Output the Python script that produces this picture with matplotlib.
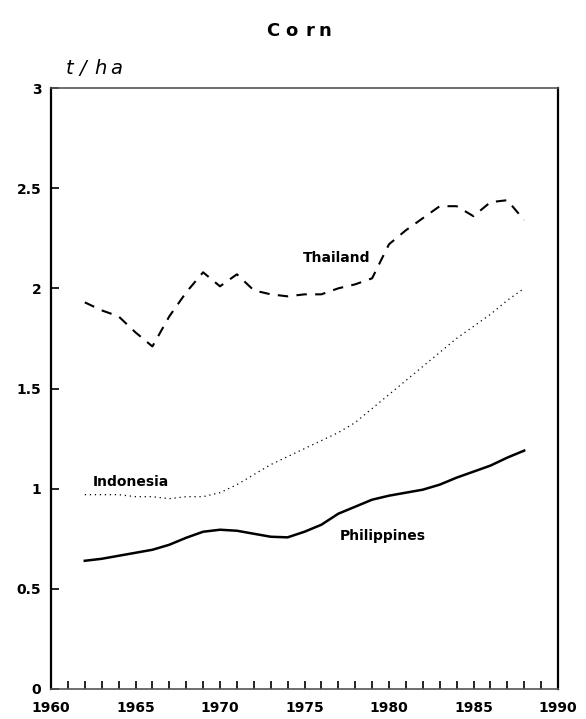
import matplotlib
matplotlib.use("Agg")
import matplotlib.pyplot as plt
import numpy as np

years = list(range(1962, 1989))
thailand = [1.93, 1.89, 1.86, 1.78, 1.71, 1.86, 1.98, 2.08, 2.01, 2.07, 1.99, 1.97, 1.96,
            1.97, 1.97, 2.00, 2.02, 2.05, 2.22, 2.29, 2.35, 2.41, 2.41, 2.36, 2.43, 2.44, 2.34]
indonesia = [0.97, 0.97, 0.97, 0.96, 0.96, 0.95, 0.96, 0.96, 0.98, 1.02, 1.07, 1.12, 1.16,
             1.20, 1.24, 1.28, 1.33, 1.40, 1.47, 1.54, 1.61, 1.68, 1.75, 1.81, 1.87, 1.94, 2.00]
philippines = [0.64, 0.65, 0.665, 0.68, 0.695, 0.72, 0.755, 0.785, 0.795, 0.79, 0.775, 0.76, 0.757,
               0.785, 0.82, 0.875, 0.91, 0.945, 0.965, 0.98, 0.995, 1.02, 1.055, 1.085, 1.115, 1.155, 1.19]
xticks = [1960, 1965, 1970, 1975, 1980, 1985, 1990]
yticks = [0, 0.5, 1, 1.5, 2, 2.5, 3]
ytick_labels = ["0", "0.5", "1", "1.5", "2", "2.5", "3"]

W, H = 586, 719
fig = plt.figure(figsize=(W / 100, H / 100), dpi=100)
ax = fig.add_axes([51 / W, 1 - 689 / H, (558 - 51) / W, (689 - 88) / H])

ax.plot(years, thailand, color="black", lw=1.5, linestyle=(0, (5, 4)))
ax.plot(years, indonesia, color="black", lw=0.9, linestyle=(0, (1, 3)))
ax.plot(years, philippines, color="black", lw=1.8, linestyle="-")

ax.set_xlim(1960, 1990)
ax.set_ylim(0, 3)
ax.set_xticks(xticks)
ax.set_xticks(range(1960, 1991), minor=True)
ax.set_yticks(yticks)
ax.set_yticklabels(ytick_labels)
ax.tick_params(axis="x", which="both", direction="in", length=6, width=1.2, pad=9,
               labelsize=10, top=False)
ax.tick_params(axis="y", which="both", direction="in", length=6, width=1.2, pad=7,
               labelsize=10, right=False)
for lab in ax.get_xticklabels() + ax.get_yticklabels():
    lab.set_fontweight("bold")

ax.spines["left"].set_linewidth(1.6)
ax.spines["right"].set_linewidth(1.6)
ax.spines["top"].set_linewidth(1.2)
ax.spines["top"].set_color("#555555")
ax.spines["bottom"].set_linewidth(1.2)
ax.spines["bottom"].set_color("#555555")

ax.text(1974.9, 2.152, "Thailand", fontsize=10, fontweight="bold", ha="left", va="center")
ax.text(1962.5, 1.033, "Indonesia", fontsize=10, fontweight="bold", ha="left", va="center")
ax.text(1977.1, 0.765, "Philippines", fontsize=10, fontweight="bold", ha="left", va="center")

# letter-spaced title
for ch, cx in zip("Corn", [272.5, 291.5, 310, 325]):
    fig.text(cx / W, 1 - 31.5 / H, ch, fontsize=13, fontweight="bold", ha="center", va="center")

# letter-spaced unit label
for ch, lx in zip("t/ha", [66, 79, 94, 110]):
    fig.text(lx / W, 1 - 69 / H, ch, fontsize=14, fontstyle="italic", ha="left", va="center")

fig.savefig("out.png", dpi=100)
